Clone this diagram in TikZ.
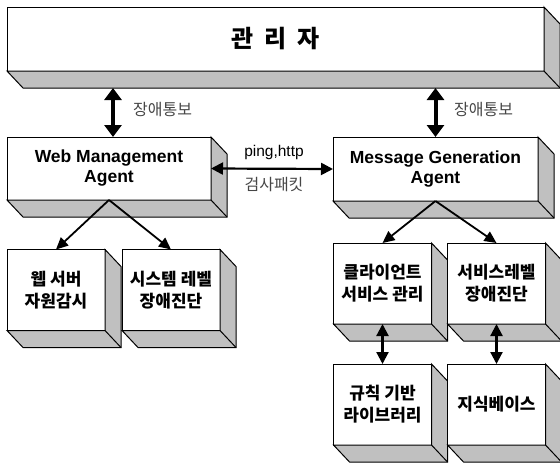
\documentclass[tikz,border=0pt]{standalone}
\usepackage{fontspec}
\setmainfont{Liberation Sans}
\newfontfamily\kr{Noto Sans CJK KR}
\usetikzlibrary{arrows.meta,calc}
\definecolor{boxgray}{RGB}{192,192,192}
\definecolor{labelgray}{RGB}{70,70,70}

% gray extrusion (right side and bottom) of a box node
\newcommand\boxdepth[1]{%
  \draw[sidefill] (#1.north east) -- ([shift={(16pt,-17pt)}]#1.north east)
    -- ([shift={(16pt,-17pt)}]#1.south east) -- ([shift={(16pt,-17pt)}]#1.south west)
    -- (#1.south west) -- (#1.south east) -- cycle;
  \draw[edge] (#1.south east) -- ([shift={(16pt,-17pt)}]#1.south east);}

\begin{document}
\begin{tikzpicture}[x=1pt,y=-1pt,
  face/.style={draw=black,line width=1pt,fill=white,inner sep=0pt,outer sep=0pt,align=center},
  bigface/.style={face,font=\bfseries\fontsize{17.5}{20}\selectfont},
  smallface/.style={face,minimum width=98pt,minimum height=81pt,
    font=\kr\bfseries\fontsize{17}{22}\selectfont},
  sidefill/.style={fill=boxgray,draw=black,line width=1pt,line join=miter},
  edge/.style={draw=black,line width=1pt},
  alarm/.style={line width=4pt,{Triangle[length=12pt,width=17pt]}-{Triangle[length=12pt,width=17pt]}},
  link/.style={line width=2.2pt,{Triangle[length=12pt,width=12pt]}-{Triangle[length=12pt,width=12pt]}},
  branch/.style={line width=1.8pt,-{Triangle[length=12pt,width=11pt]}},
  note/.style={text=labelgray,inner sep=0pt,font=\kr\fontsize{16}{18}\selectfont}]
\useasboundingbox (0,0) rectangle (560,463);

% manager
\node[face,minimum width=537pt,minimum height=64pt,
  font=\kr\bfseries\fontsize{24}{28}\selectfont] (mgr) at (275.5,39) {관\hspace{0.45em}리\hspace{0.45em}자};
\boxdepth{mgr}
\coordinate (mgrfloor) at ([yshift=-17pt]mgr.south);

% agents
\node[bigface,minimum width=204pt,minimum height=63pt] (web) at (109,168.5) {Web Management\\Agent};
\boxdepth{web}
\node[bigface,minimum width=205pt,minimum height=64pt] (mga) at (435.5,169) {Message Generation\\Agent};
\boxdepth{mga}

% web agent functions
\node[smallface] (webres) at (56,290) {웹 서버\\자원감시};
\boxdepth{webres}
\node[smallface] (websys) at (171,290) {시스템 레벨\\장애진단};
\boxdepth{websys}

% message agent functions
\node[smallface] (client) at (382.5,283.5) {클라이언트\\서비스 관리};
\boxdepth{client}
\node[smallface] (svc) at (496.5,283.5) {서비스레벨\\장애진단};
\boxdepth{svc}
\node[smallface] (rules) at (382.5,404.5) {규칙 기반\\라이브러리};
\boxdepth{rules}
\node[smallface] (kb) at (496.5,404.5) {지식베이스};
\boxdepth{kb}

% fault reports to the manager
\draw[alarm] ([xshift=4pt]web.north |- mgrfloor) -- ([xshift=4pt]web.north);
\draw[alarm] (mga.north |- mgrfloor) -- (mga.north);
\node[note,anchor=west] (rep1) at (133,110) {장애통보};
\node[note,anchor=west] (rep2) at (454,110) {장애통보};

% probe traffic between the agents
\draw[link] (web.east) -- (mga.west);
\node[inner sep=0pt,font=\fontsize{15.5}{18}\selectfont] (probe) at (274,152) {ping,http};
\node[note] (packet) at (274,185) {검사패킷};

% branches
\draw[branch] (web.south) -- (webres.north);
\draw[branch] (web.south) -- (websys.north);
\draw[branch] (mga.south) -- (client.north);
\draw[branch] (mga.south) -- (svc.north);
\draw[link] (client.south) -- (rules.north);
\draw[link] (svc.south) -- (kb.north);
\end{tikzpicture}
\end{document}
